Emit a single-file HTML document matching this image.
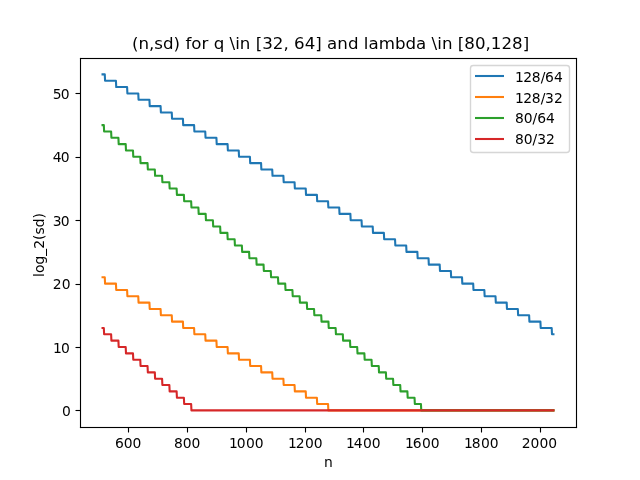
<!DOCTYPE html>
<html lang="en"><head><meta charset="utf-8"><title>(n,sd) plot</title>
<style>html,body{margin:0;padding:0;background:#fff;overflow:hidden}svg{display:block}text{font-family:"DejaVu Sans", "Liberation Sans", sans-serif;fill:#000}.t10{font-size:13.889px}.t12{font-size:16.667px}</style>
</head><body>
<svg width="640" height="480" viewBox="0 0 640 480">
<rect x="0" y="0" width="640" height="480" fill="#fff"/>
<g stroke="#000" stroke-width="1.111" fill="none">
<path d="M128.5 427.5 v5.00"/>
<path d="M187.5 427.5 v5.00"/>
<path d="M246.5 427.5 v5.00"/>
<path d="M305.5 427.5 v5.00"/>
<path d="M363.5 427.5 v5.00"/>
<path d="M422.5 427.5 v5.00"/>
<path d="M481.5 427.5 v5.00"/>
<path d="M540.5 427.5 v5.00"/>
<path d="M80.5 410.5 h-5.00"/>
<path d="M80.5 347.5 h-5.00"/>
<path d="M80.5 284.5 h-5.00"/>
<path d="M80.5 220.5 h-5.00"/>
<path d="M80.5 157.5 h-5.00"/>
<path d="M80.5 93.5 h-5.00"/>
</g>
<g opacity="0.999">
<g class="t10">
<text x="114.91" y="448.00">600</text>
<text x="173.91" y="448.00">800</text>
<text x="228.99 236.82 245.95" y="448.00">1000</text>
<text x="287.99 295.82 304.95" y="448.00">1200</text>
<text x="345.99 353.82 362.95" y="448.00">1400</text>
<text x="404.99 412.82 421.95" y="448.00">1600</text>
<text x="463.99 471.82 480.95" y="448.00">1800</text>
<text x="521.74" y="448.00">2000</text>
<text x="61.95" y="416.00">0</text>
<text x="53.12 60.95" y="353.00">10</text>
<text x="52.87" y="289.00">20</text>
<text x="52.87 60.70" y="226.00">30</text>
<text x="52.87 60.70" y="162.00">40</text>
<text x="52.87 60.70" y="99.00">50</text>
<text x="328.50" y="467.00" text-anchor="middle">n</text>
<text transform="translate(43.77 245.00) rotate(-90)" text-anchor="middle">log_2(sd)</text>
</g>
<text class="t12" x="330.55" y="49.00" text-anchor="middle" textLength="397.20" lengthAdjust="spacing">(n,sd) for q \in [32, 64] and lambda \in [80,128]</text>
</g>
<g fill="none" stroke-width="2.083" stroke-linejoin="round" stroke-linecap="square">
<path stroke="#1f77b4" d="M102.55 74.40 L104.77 74.40 L105.07 80.74 L115.94 80.74 L116.23 87.08 L127.10 87.08 L127.39 93.42 L138.27 93.42 L138.56 99.76 L149.43 99.76 L149.72 106.10 L160.59 106.10 L160.89 112.44 L171.76 112.44 L172.05 118.78 L182.92 118.78 L183.21 125.12 L194.09 125.12 L194.38 131.46 L205.25 131.46 L205.54 137.80 L216.41 137.80 L216.71 144.14 L227.58 144.14 L227.87 150.48 L238.74 150.48 L239.03 156.82 L249.91 156.82 L250.20 163.15 L261.07 163.15 L261.36 169.49 L272.23 169.49 L272.53 175.83 L283.40 175.83 L283.69 182.17 L294.56 182.17 L294.85 188.51 L305.73 188.51 L306.02 194.85 L316.89 194.85 L317.18 201.19 L328.05 201.19 L328.35 207.53 L339.22 207.53 L339.51 213.87 L350.38 213.87 L350.67 220.21 L361.55 220.21 L361.84 226.55 L372.71 226.55 L373.00 232.89 L383.87 232.89 L384.17 239.23 L395.04 239.23 L395.33 245.57 L406.20 245.57 L406.49 251.91 L417.37 251.91 L417.66 258.25 L428.53 258.25 L428.82 264.59 L439.69 264.59 L439.99 270.93 L450.86 270.93 L451.15 277.27 L462.02 277.27 L462.31 283.61 L473.19 283.61 L473.48 289.95 L484.35 289.95 L484.64 296.29 L495.51 296.29 L495.81 302.63 L506.68 302.63 L506.97 308.97 L517.84 308.97 L518.13 315.31 L529.13 315.31 L529.42 321.65 L540.41 321.65 L540.70 327.98 L551.69 327.98 L551.99 334.32 L553.45 334.32"/>
<path stroke="#ff7f0e" d="M102.55 277.27 L104.77 277.27 L105.07 283.61 L115.94 283.61 L116.23 289.95 L127.10 289.95 L127.39 296.29 L138.27 296.29 L138.56 302.63 L149.43 302.63 L149.72 308.97 L160.59 308.97 L160.89 315.31 L171.76 315.31 L172.05 321.65 L182.92 321.65 L183.21 327.98 L194.09 327.98 L194.38 334.32 L205.25 334.32 L205.54 340.66 L216.41 340.66 L216.71 347.00 L227.58 347.00 L227.87 353.34 L238.74 353.34 L239.03 359.68 L249.91 359.68 L250.20 366.02 L261.07 366.02 L261.36 372.36 L272.23 372.36 L272.53 378.70 L283.40 378.70 L283.69 385.04 L294.56 385.04 L294.85 391.38 L305.73 391.38 L306.02 397.72 L316.89 397.72 L317.18 404.06 L328.05 404.06 L328.35 410.40 L553.45 410.40"/>
<path stroke="#2ca02c" d="M102.55 125.12 L103.82 125.12 L104.12 131.46 L111.12 131.46 L111.41 137.80 L118.41 137.80 L118.70 144.14 L125.70 144.14 L125.99 150.48 L132.98 150.48 L133.28 156.82 L140.27 156.82 L140.56 163.15 L147.54 163.15 L147.84 169.49 L154.82 169.49 L155.11 175.83 L162.09 175.83 L162.38 182.17 L169.36 182.17 L169.65 188.51 L176.62 188.51 L176.92 194.85 L183.89 194.85 L184.18 201.19 L191.15 201.19 L191.44 207.53 L198.40 207.53 L198.69 213.87 L205.65 213.87 L205.95 220.21 L212.90 220.21 L213.20 226.55 L220.15 226.55 L220.44 232.89 L227.39 232.89 L227.68 239.23 L234.63 239.23 L234.92 245.57 L241.86 245.57 L242.16 251.91 L249.10 251.91 L249.39 258.25 L256.33 258.25 L256.62 264.59 L263.55 264.59 L263.85 270.93 L270.78 270.93 L271.07 277.27 L277.99 277.27 L278.29 283.61 L285.21 283.61 L285.50 289.95 L292.42 289.95 L292.72 296.29 L299.63 296.29 L299.93 302.63 L306.84 302.63 L307.13 308.97 L314.04 308.97 L314.34 315.31 L321.24 315.31 L321.54 321.65 L328.44 321.65 L328.73 327.98 L335.63 327.98 L335.93 334.32 L342.82 334.32 L343.12 340.66 L350.01 340.66 L350.30 347.00 L357.19 347.00 L357.49 353.34 L364.37 353.34 L364.67 359.68 L371.55 359.68 L371.84 366.02 L378.72 366.02 L379.02 372.36 L385.89 372.36 L386.19 378.70 L393.06 378.70 L393.35 385.04 L400.22 385.04 L400.52 391.38 L407.38 391.38 L407.68 397.72 L414.54 397.72 L414.84 404.06 L420.95 404.06 L421.25 410.40 L553.45 410.40"/>
<path stroke="#d62728" d="M102.55 327.98 L103.82 327.98 L104.12 334.32 L111.12 334.32 L111.41 340.66 L118.41 340.66 L118.70 347.00 L125.70 347.00 L125.99 353.34 L132.98 353.34 L133.28 359.68 L140.27 359.68 L140.56 366.02 L147.54 366.02 L147.84 372.36 L154.82 372.36 L155.11 378.70 L162.09 378.70 L162.38 385.04 L169.36 385.04 L169.65 391.38 L176.62 391.38 L176.92 397.72 L183.89 397.72 L184.18 404.06 L191.15 404.06 L191.44 410.40 L553.45 410.40"/>
</g>
<g fill="#000">
<rect x="79.944" y="57.944" width="497.111" height="1.111"/>
<rect x="79.944" y="426.944" width="497.111" height="1.111"/>
<rect x="79.944" y="57.944" width="1.111" height="370.111"/>
<rect x="575.944" y="57.944" width="1.111" height="370.111"/>
</g>
<path d="M473.28 152.50 H566.72 Q569.50 152.50 569.50 149.72 V68.28 Q569.50 65.50 566.72 65.50 H473.28 Q470.50 65.50 470.50 68.28 V149.72 Q470.50 152.50 473.28 152.50 Z" fill="#fff" stroke="#ccc" stroke-width="1.389" opacity="0.8"/>
<g stroke-width="2.083" fill="none">
<path d="M475 76 H504" stroke="#1f77b4"/>
<path d="M475 97 H504" stroke="#ff7f0e"/>
<path d="M475 118 H504" stroke="#2ca02c"/>
<path d="M475 139 H504" stroke="#d62728"/>
</g>
<g class="t10" opacity="0.999">
<text x="514.90" y="82.00" dx="0 -0.5 -0.2 0 -0.3 0">128/64</text>
<text x="514.90" y="103.00" dx="0 -0.5 -0.2 0 -0.3 0">128/32</text>
<text x="514.89" y="123.00">80/64</text>
<text x="514.89" y="144.00">80/32</text>
</g>
</svg>
</body></html>
